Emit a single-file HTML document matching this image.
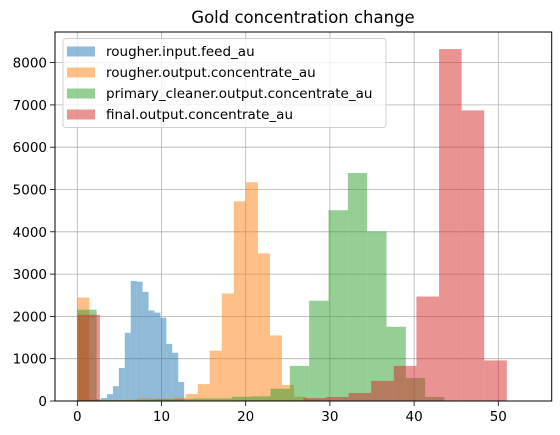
<!DOCTYPE html>
<html><head><meta charset="utf-8">
<style>
html,body{margin:0;padding:0;background:#fff;}
svg{display:block;font-family:"DejaVu Sans","Liberation Sans",sans-serif;}
</style></head>
<body>
<svg id="chart" width="560" height="435" viewBox="0 0 560 435" xmlns="http://www.w3.org/2000/svg">
<text x="303" y="23" font-size="16.5" text-anchor="middle" fill="#000">Gold concentration change</text>
<g id="grid"></g>
<g id="bars"></g>
<g id="axes"></g>
<g id="legend"></g>
</svg>
<script>
// ---- data ----
const seriesNames = ["rougher.input.feed_au","rougher.output.concentrate_au","primary_cleaner.output.concentrate_au","final.output.concentrate_au"];
const seriesColors = ["#1f77b4","#ff7f0e","#2ca02c","#d62728"];
const binWidths = [0.705, 1.43, 2.295, 2.685];
const blueCounts = [20,10,20,40,70,160,350,780,1610,2840,2820,2580,2140,2090,1970,1350,1140,450];
const orangeCounts = [2445,30,20,20,30,60,60,60,80,165,400,1190,2540,4720,5170,3490,1550,380,100,30];
const greenCounts = [2160,20,20,30,40,50,60,60,100,110,290,830,2370,4510,5390,4010,1755,545,95,10];
const redCounts = [2040,5,5,5,5,5,5,15,15,15,70,95,190,475,830,2470,8320,6870,960,5];
const xTicks = [0,10,20,30,40,50];
const yTicks = [0,1000,2000,3000,4000,5000,6000,7000,8000];

// ---- scales ----
const L=55, R=551.7, T=32, B=401;
const x0px=77.3, pxPerX=8.42;
const pxPerY=(B-62.6)/8000;
const X = v => x0px + v*pxPerX;
const Y = v => B - v*pxPerY;
const NS="http://www.w3.org/2000/svg";
function mk(tag, attrs, parent){const e=document.createElementNS(NS,tag);for(const k in attrs)e.setAttribute(k,attrs[k]);parent.appendChild(e);return e;}

const grid=document.getElementById('grid');
for(const t of xTicks){
  const l=mk('line',{x1:X(t),x2:X(t),y1:T,y2:B,stroke:'#b0b0b0','stroke-width':0.8},grid);
  
  
}
for(const t of yTicks){
  const l=mk('line',{x1:L,x2:R,y1:Y(t),y2:Y(t),stroke:'#b0b0b0','stroke-width':0.8},grid);
  
  
}

const bars=document.getElementById('bars');
const allCounts=[blueCounts,orangeCounts,greenCounts,redCounts];
allCounts.forEach((counts,s)=>{
  const g=mk('g',{},bars);
  
  
  counts.forEach((c,i)=>{
    const xa=X(i*binWidths[s]), xb=X((i+1)*binWidths[s]);
    const r=mk('rect',{x:xa,y:Y(c),width:xb-xa,height:B-Y(c),fill:seriesColors[s],'fill-opacity':0.5},g);
    
    
  });
});

const axes=document.getElementById('axes');
const frame=mk('rect',{x:L,y:T,width:R-L,height:B-T,fill:'none',stroke:'#000','stroke-width':1},axes);


for(const t of xTicks){
  mk('line',{x1:X(t),x2:X(t),y1:B,y2:B+5,stroke:'#000','stroke-width':0.8},axes);
  const tx=mk('text',{x:X(t),y:B+20,'font-size':13.5,'text-anchor':'middle',fill:'#000'},axes);
  tx.textContent=t;
  
  
}
for(const t of yTicks){
  mk('line',{x1:L-5,x2:L,y1:Y(t),y2:Y(t),stroke:'#000','stroke-width':0.8},axes);
  const tx=mk('text',{x:L-8,y:Y(t)+5,'font-size':13.5,'text-anchor':'end',fill:'#000'},axes);
  tx.textContent=t;
  
  
}

const leg=document.getElementById('legend');


const box=mk('rect',{x:63,y:38.5,width:323,height:89,rx:3,fill:'#fff','fill-opacity':0.8,stroke:'#d0d0d0','stroke-width':1},leg);


seriesNames.forEach((n,i)=>{
  const cy=51+i*21;
  const p=mk('rect',{x:67,y:cy-4.5,width:28,height:10,fill:seriesColors[i],'fill-opacity':0.5},leg);
  
  
  const t=mk('text',{x:106,y:cy+5,'font-size':13.5,fill:'#000'},leg);
  t.textContent=n;
  
  
});
</script>
</body></html>
